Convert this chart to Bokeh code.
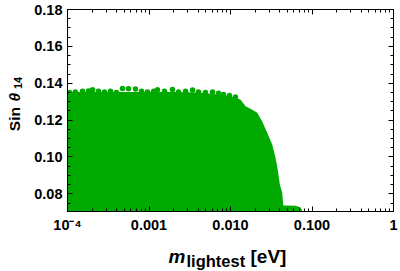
import math
from bokeh.plotting import figure
from bokeh.layouts import column, row
from bokeh.models import (LogAxis, LinearAxis, FixedTicker, CustomJSTickFormatter,
                          Range1d, ColumnDataSource)
from bokeh.core.properties import value
from bokeh.embed import file_html
from bokeh.resources import INLINE

# ---- data ----
# envelope of the dense scatter region (m_lightest [eV], Sin theta14)
env_x = [1.0e-4, 2.0e-4, 5.0e-4, 1.0e-3, 2.0e-3, 4.0e-3, 8.2e-3, 1.15e-2, 1.33e-2,
         1.53e-2, 1.85e-2, 2.13e-2, 2.45e-2, 2.82e-2, 3.25e-2, 3.57e-2, 3.80e-2,
         4.03e-2, 4.31e-2, 4.40e-2, 4.45e-2, 6.30e-2, 7.20e-2, 7.50e-2]
env_top = [0.1352, 0.1353, 0.1353, 0.1353, 0.1352, 0.1350, 0.1336, 0.1322, 0.1310,
           0.1275, 0.1256, 0.1240, 0.1192, 0.1131, 0.1067, 0.0996, 0.0931,
           0.0850, 0.0807, 0.0760, 0.0736, 0.0735, 0.0727, 0.0712]
env_bottom = 0.0700

# individual points along the ragged upper edge
edge_x = [1.06e-4, 1.25e-4, 1.53e-4, 1.81e-4, 2.03e-4, 2.40e-4, 2.84e-4, 3.37e-4,
          3.99e-4, 4.73e-4, 5.60e-4, 6.83e-4, 8.09e-4, 9.59e-4, 1.14e-3, 1.27e-3,
          1.55e-3, 1.94e-3, 2.30e-3, 2.81e-3, 3.42e-3, 4.05e-3, 4.93e-3, 6.01e-3,
          7.13e-3, 8.20e-3, 9.72e-3, 1.15e-2]
edge_y = [0.1350, 0.1353, 0.1356, 0.1358, 0.1365, 0.1356, 0.1353, 0.1356,
          0.1350, 0.1372, 0.1370, 0.1368, 0.1356, 0.1353, 0.1356, 0.1365,
          0.1356, 0.1366, 0.1353, 0.1356, 0.1363, 0.1353, 0.1350, 0.1353,
          0.1346, 0.1339, 0.1333, 0.1325]

x_ticks = [1e-4, 1e-3, 1e-2, 1e-1, 1.0]
x_tick_labels = ["10⁻⁴", "0.001", "0.010", "0.100", "1"]
y_ticks = [0.08, 0.10, 0.12, 0.14, 0.16, 0.18]
y_tick_labels = ["0.08", "0.10", "0.12", "0.14", "0.16", "0.18"]

x_title_parts = ["m", "lightest", "[eV]"]
y_title_parts = ["Sin", "θ", "14"]

GREEN = "#00aa00"
FONT = "Liberation Sans"

x_minor = [k * 10.0 ** e for e in range(-4, 0) for k in range(2, 10)]
y_minor = [0.07 + 0.005 * i for i in range(1, 23)]

# ---------------- main plot ----------------
p = figure(width=375, height=235, x_axis_type="log",
           x_range=Range1d(1e-4, 1.0), y_range=Range1d(0.0704, 0.18),
           output_backend="svg", toolbar_location=None,
           min_border_left=42, min_border_right=7, min_border_top=9,
           min_border_bottom=24)
p.xgrid.visible = False
p.ygrid.visible = False
p.outline_line_color = "black"
p.outline_line_width = 1
p.background_fill_color = "white"
p.border_fill_color = "white"

src = ColumnDataSource(dict(x=env_x, top=env_top, bottom=[env_bottom] * len(env_x)))
p.varea(x="x", y1="bottom", y2="top", source=src, fill_color=GREEN)
p.scatter(edge_x, edge_y, size=5.5, marker="circle", fill_color=GREEN, line_color=None)

xfmt = CustomJSTickFormatter(args=dict(tvals=x_ticks, tlabels=x_tick_labels), code="""
for (let i = 0; i < tvals.length; i++) {
  if (Math.abs(Math.log10(tick) - Math.log10(tvals[i])) < 1e-6) return tlabels[i];
}
return '';
""")
yfmt = CustomJSTickFormatter(args=dict(tvals=y_ticks, tlabels=y_tick_labels), code="""
for (let i = 0; i < tvals.length; i++) {
  if (Math.abs(tick - tvals[i]) < 1e-9) return tlabels[i];
}
return '';
""")
blank = CustomJSTickFormatter(code="return '';")


def style(ax, labels=True):
    ax.axis_line_color = "black"
    ax.major_tick_in = 5
    ax.major_tick_out = 0
    ax.minor_tick_in = 3
    ax.minor_tick_out = 0
    ax.major_tick_line_color = "black"
    ax.minor_tick_line_color = "black"
    ax.major_label_text_font = FONT
    ax.major_label_text_font_style = "bold"
    ax.major_label_text_font_size = "14.5px"
    ax.major_label_text_color = "black"
    if not labels:
        ax.major_label_text_font_size = "0px"
        ax.major_label_standoff = 0


xb = p.xaxis[0]
xb.ticker = FixedTicker(ticks=x_ticks, minor_ticks=x_minor)
xb.formatter = xfmt
style(xb)
xb.major_label_standoff = 5

yl = p.yaxis[0]
yl.ticker = FixedTicker(ticks=y_ticks, minor_ticks=y_minor)
yl.formatter = yfmt
style(yl)
yl.major_label_standoff = 5

xt = LogAxis(ticker=FixedTicker(ticks=x_ticks, minor_ticks=x_minor), formatter=blank)
style(xt, labels=False)
p.add_layout(xt, "above")
yr = LinearAxis(ticker=FixedTicker(ticks=y_ticks, minor_ticks=y_minor), formatter=blank)
style(yr, labels=False)
p.add_layout(yr, "right")


# ---------------- title strips ----------------
def strip(w, h):
    f = figure(width=w, height=h, x_range=Range1d(0, w), y_range=Range1d(0, h),
               output_backend="svg", toolbar_location=None, min_border=0)
    f.axis.visible = False
    f.grid.visible = False
    f.outline_line_color = None
    f.background_fill_color = "white"
    f.border_fill_color = "white"
    return f


def put(f, x, y, txt, size, style="bold", angle=0.0):
    f.text(x=[x], y=[y], text=[txt], text_font=value(FONT),
           text_font_size=value(size), text_font_style=value(style),
           text_color="black", text_align="left", text_baseline="alphabetic",
           angle=angle)


# y title strip: page x 0..25, page y 0..235 (data y = 235 - page y)
ys = strip(25, 235)
put(ys, 13.5, 93.5, y_title_parts[0], "15.5px", angle=math.pi / 2)
put(ys, 13.5, 128.0, y_title_parts[1], "15.5px", "bold italic", angle=math.pi / 2)
put(ys, 17.5, 142.5, y_title_parts[2], "11px", angle=math.pi / 2)

# x title strip: page y 235..271
xs = strip(400, 36)
put(xs, 168.0, 15.0, x_title_parts[0], "19px", "bold italic")
put(xs, 186.0, 11.0, x_title_parts[1], "16.5px")
put(xs, 250.0, 15.0, x_title_parts[2], "19px")

layout = column(row(ys, p, spacing=0), xs, spacing=0)

open("out.html", "w").write(file_html(layout, INLINE))
